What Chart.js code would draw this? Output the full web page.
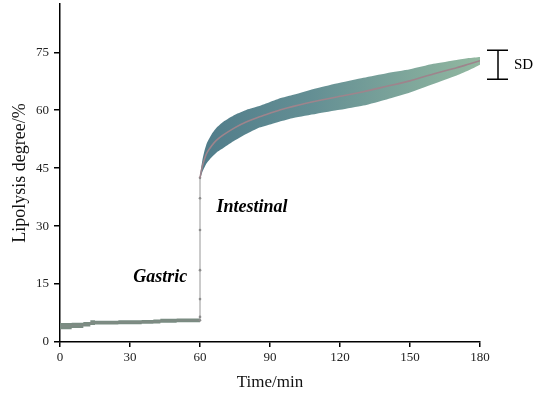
<!DOCTYPE html>
<html>
<head>
<meta charset="utf-8">
<script src="https://cdn.jsdelivr.net/npm/chart.js@4.4.1/dist/chart.umd.min.js"></script>
<style>
html,body{margin:0;padding:0;background:#fff;}
canvas{display:block;}
</style>
</head>
<body>
<canvas id="c" width="540" height="399"></canvas>
<script>
// ---- data ----
const gastricTime = [0, 5, 10, 13, 15, 20, 25, 30, 35, 40, 43, 45, 50, 55, 60];
const gastricMean = [4.1, 4.3, 4.6, 5.0, 5.0, 5.0, 5.1, 5.1, 5.2, 5.3, 5.5, 5.5, 5.6, 5.6, 5.6];
const gastricSD   = [0.8, 0.7, 0.6, 0.6, 0.5, 0.5, 0.5, 0.5, 0.5, 0.5, 0.5, 0.5, 0.5, 0.5, 0.5];

const jumpTime = [60, 60, 60, 60, 60, 60, 60];
const jumpValue = [5.6, 6.5, 11.1, 18.6, 29.0, 37.2, 42.5];

const intestTime = [60, 61, 62, 63, 65, 67, 70, 75, 80, 85, 90, 95, 100, 110, 120, 130, 140, 150, 160, 170, 175, 180];
const intestMean = [42.5, 45.5, 47.5, 49.0, 50.8, 52.2, 53.6, 55.5, 57.0, 58.2, 59.2, 60.2, 61.0, 62.4, 63.6, 64.8, 66.2, 67.6, 69.4, 71.0, 71.9, 72.8];
const intestSD   = [0.5, 1.5, 2.2, 2.6, 3.0, 3.2, 3.4, 3.3, 3.1, 2.8, 2.9, 3.0, 3.0, 3.3, 3.5, 3.6, 3.4, 3.0, 2.6, 2.0, 1.6, 1.0];

const xTicks = [0, 30, 60, 90, 120, 150, 180];
const yTicks = [0, 15, 30, 45, 60, 75];

const phaseLabels = [
  {text: 'Gastric', x: 43, y: 16.8},
  {text: 'Intestinal', x: 82.3, y: 34.9}
];
const sdKey = {label: 'SD', low: 68, high: 75.5};

// ---- build ----
const pts = (t, v) => t.map((x, i) => ({x: x, y: v[i]}));
const gUp = pts(gastricTime, gastricMean.map((m, i) => m + gastricSD[i]));
const gLo = pts(gastricTime, gastricMean.map((m, i) => m - gastricSD[i]));
const iUp = pts(intestTime, intestMean.map((m, i) => m + intestSD[i]));
const iLo = pts(intestTime, intestMean.map((m, i) => m - intestSD[i]));

function bandGradient(ctx) {
  const chart = ctx.chart;
  const area = chart.chartArea;
  if (!area) return 'rgba(90,135,140,1)';
  const xs = chart.scales.x;
  const g = chart.ctx.createLinearGradient(xs.getPixelForValue(60), 0, area.right, 0);
  g.addColorStop(0, 'rgb(80,124,138)');
  g.addColorStop(0.4, 'rgb(100,143,148)');
  g.addColorStop(1, 'rgb(146,184,160)');
  return g;
}

const annot = {
  id: 'annot',
  afterDatasetsDraw(chart) {
    const c = chart.ctx, xs = chart.scales.x, ys = chart.scales.y, area = chart.chartArea;
    c.save();
    c.fillStyle = '#000';
    c.font = 'italic bold 18px "Liberation Serif"';
    c.textAlign = 'center';
    c.textBaseline = 'middle';
    phaseLabels.forEach(l => c.fillText(l.text, xs.getPixelForValue(l.x), ys.getPixelForValue(l.y)));
    // SD key
    const kx = area.right + 18;
    const y1 = ys.getPixelForValue(sdKey.high), y2 = ys.getPixelForValue(sdKey.low);
    c.strokeStyle = '#000';
    c.lineWidth = 1.5;
    c.beginPath();
    c.moveTo(kx, y1); c.lineTo(kx, y2);
    c.moveTo(kx - 11, y1); c.lineTo(kx + 10, y1);
    c.moveTo(kx - 11, y2); c.lineTo(kx + 10, y2);
    c.stroke();
    c.font = '15px "Liberation Serif"';
    c.textAlign = 'left';
    c.fillText(sdKey.label, kx + 16, (y1 + y2) / 2);
    c.restore();
  }
};

new Chart(document.getElementById('c'), {
  type: 'line',
  data: {
    datasets: [
      {order: 3, data: iUp, borderWidth: 0, pointRadius: 0, fill: '+1', backgroundColor: bandGradient, borderColor: 'rgba(0,0,0,0)', tension: 0.2},
      {order: 3, data: iLo, borderWidth: 0, pointRadius: 0, fill: false, borderColor: 'rgba(0,0,0,0)', tension: 0.2},
      {order: 3, data: gUp, borderWidth: 0, pointRadius: 0, fill: '+1', backgroundColor: 'rgb(122,140,130)', borderColor: 'rgba(0,0,0,0)', stepped: true},
      {order: 3, data: gLo, borderWidth: 0, pointRadius: 0, fill: false, borderColor: 'rgba(0,0,0,0)', stepped: true},
      {order: 1, data: pts(jumpTime, jumpValue), borderWidth: 1, borderColor: 'rgb(150,150,150)', pointRadius: 1.3, pointBackgroundColor: 'rgb(140,140,140)', pointBorderWidth: 0, fill: false},
      {order: 1, data: pts(gastricTime, gastricMean), borderWidth: 1.2, borderColor: 'rgb(128,138,132)', pointRadius: 0, fill: false, stepped: true},
      {order: 0, data: pts(intestTime, intestMean), borderWidth: 1.6, borderColor: 'rgb(158,132,140)', pointRadius: 0, fill: false, tension: 0.2}
    ]
  },
  options: {
    responsive: false,
    animation: false,
    layout: {padding: {left: 0, right: 60, top: 4, bottom: 0}},
    plugins: {legend: {display: false}, tooltip: {enabled: false}},
    scales: {
      x: {
        type: 'linear', min: 0, max: 180,
        afterBuildTicks: s => { s.ticks = xTicks.map(v => ({value: v})); },
        afterFit: s => { s.height = 57; },
        grid: {drawOnChartArea: false, drawTicks: true, tickLength: 5, color: '#000', lineWidth: 1.5},
        border: {color: '#000', width: 1.5},
        ticks: {color: '#222', font: {family: 'Liberation Serif', size: 13}, padding: 3, maxRotation: 0},
        title: {display: true, text: 'Time/min', color: '#111', font: {family: 'Liberation Serif', size: 17}, padding: {top: 4, bottom: 6}}
      },
      y: {
        type: 'linear', min: 0, max: 87.5,
        afterBuildTicks: s => { s.ticks = yTicks.map(v => ({value: v})); },
        afterFit: s => { s.width = 60; s.paddingTop = 0; s.paddingBottom = 0; },
        grid: {drawOnChartArea: false, drawTicks: true, tickLength: 6, color: '#000', lineWidth: 1.5},
        border: {color: '#000', width: 1.5},
        ticks: {color: '#222', font: {family: 'Liberation Serif', size: 13, lineHeight: 0.5}, padding: 5},
        title: {display: true, text: 'Lipolysis degree/%', color: '#111', font: {family: 'Liberation Serif', size: 18}, padding: {top: 9, bottom: 0}}
      }
    }
  },
  plugins: [annot]
});
</script>
</body>
</html>
